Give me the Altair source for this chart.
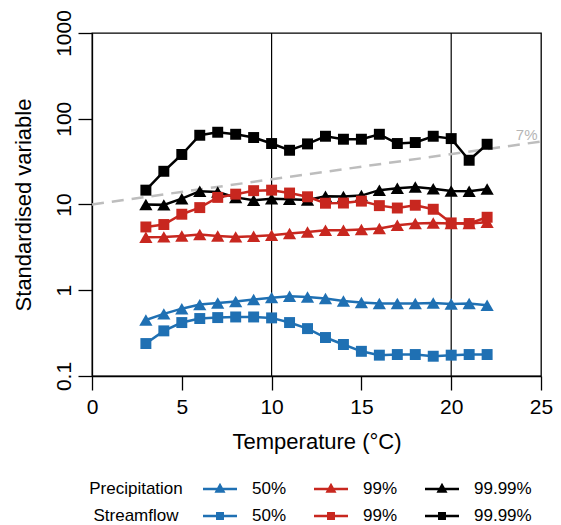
import altair as alt
import pandas as pd

temps = list(range(3, 23))
quantiles = ["50%", "99%", "99.99%"]
variables = ["Precipitation", "Streamflow"]
colors = ["#1f70b3", "#c8271f", "#000000"]

precip_50 = [0.45, 0.53, 0.61, 0.68, 0.71, 0.74, 0.78, 0.82, 0.85, 0.835,
             0.80, 0.75, 0.72, 0.70, 0.70, 0.70, 0.71, 0.69, 0.70, 0.67]
precip_99 = [4.15, 4.19, 4.3, 4.46, 4.3, 4.19, 4.26, 4.38, 4.58, 4.78,
             5.0, 5.0, 5.1, 5.25, 5.73, 6.0, 6.1, 6.0, 6.0, 6.2]
precip_9999 = [10.0, 9.9, 11.7, 14.3, 14.0, 12.1, 11.2, 11.7, 11.5, 11.3,
               12.5, 12.4, 12.7, 14.7, 15.5, 16.0, 15.3, 14.4, 14.3, 15.2]
stream_50 = [0.239, 0.336, 0.42, 0.468, 0.48, 0.488, 0.488, 0.476, 0.42, 0.357,
             0.281, 0.233, 0.194, 0.175, 0.178, 0.178, 0.17, 0.175, 0.178, 0.178]
stream_99 = [5.47, 5.84, 7.7, 9.2, 12.1, 13.2, 14.5, 14.7, 13.6, 12.3,
             10.35, 10.4, 10.95, 9.7, 9.1, 9.8, 8.8, 6.1, 6.0, 7.1]
stream_9999 = [14.7, 24.4, 38.3, 64.2, 69.6, 65.9, 60.4, 51.4, 42.9, 50.9,
               62.5, 57.7, 57.7, 65.9, 51.4, 52.8, 62.5, 58.7, 32.8, 50.4]

vlines = [10, 20]
ref_rate = 0.07
ref_start = 10
ref_x = [0, 25]
ref_label = "7%"
ref_label_pos = [24.2, 64]

x_ticks = [0, 5, 10, 15, 20, 25]
y_ticks = [0.1, 1, 10, 100, 1000]

FONT = "Liberation Sans"


def long_df(series):
    rows = []
    for q, vals in zip(quantiles, series):
        for t, v in zip(temps, vals):
            rows.append({"temp": t, "value": v, "q": q})
    return pd.DataFrame(rows)


precip_df = long_df([precip_50, precip_99, precip_9999])
stream_df = long_df([stream_50, stream_99, stream_9999])
ref_df = pd.DataFrame({"temp": ref_x,
                       "value": [ref_start * (1 + ref_rate) ** t for t in ref_x]})
label_df = pd.DataFrame({"temp": [ref_label_pos[0]], "value": [ref_label_pos[1]],
                         "txt": [ref_label]})
vline_df = pd.DataFrame({"temp": vlines})

x_enc = alt.X("temp:Q",
              scale=alt.Scale(domain=[0, 25], nice=False, zero=False),
              axis=alt.Axis(values=x_ticks, title="Temperature (°C)",
                            labelFontSize=21, titleFontSize=22,
                            labelPadding=6, titlePadding=14, labelFlush=False,
                            tickSize=14, format="d"))
y_enc = alt.Y("value:Q",
              scale=alt.Scale(type="log", domain=[0.1, 1000], nice=False),
              axis=alt.Axis(values=y_ticks, title="Standardised variable",
                            format="~g", labelAngle=270, labelAlign="center",
                            labelBaseline="bottom", labelFlush=False,
                            labelFontSize=21, titleFontSize=22,
                            labelPadding=4, titlePadding=18, tickSize=14))
color_scale = alt.Scale(domain=quantiles, range=colors)

rules = alt.Chart(vline_df).mark_rule(color="black", strokeWidth=1.2).encode(x=x_enc)
ref_line = alt.Chart(ref_df).mark_line(color="#bdbdbd", strokeWidth=2.5,
                                       strokeDash=[12, 8]).encode(x=x_enc, y=y_enc)
ref_text = alt.Chart(label_df).mark_text(color="#b5b5b5", fontSize=15, font=FONT,
                                         align="center", baseline="middle").encode(
    x=x_enc, y=y_enc, text="txt:N")

precip = alt.Chart(precip_df).mark_line(
    strokeWidth=2.5,
    point=alt.OverlayMarkDef(shape="triangle-up", size=175, filled=True, opacity=1),
).encode(x=x_enc, y=y_enc,
         color=alt.Color("q:N", scale=color_scale, legend=None))
stream = alt.Chart(stream_df).mark_line(
    strokeWidth=2.5,
    point=alt.OverlayMarkDef(shape="square", size=120, filled=True, opacity=1),
).encode(x=x_enc, y=y_enc,
         color=alt.Color("q:N", scale=color_scale, legend=None))

main = alt.layer(rules, ref_line, ref_text, precip, stream)

# ---- hand-built legend (two rows x three columns) ----
TRI = "M-1,0L1,0M-0.2,0.14L0,-0.22L0.2,0.14Z"
SQR = "M-1,0L1,0M-0.16,-0.16L0.16,-0.16L0.16,0.16L-0.16,0.16Z"
leg_df = pd.DataFrame([{"var": v, "q": q} for v in variables for q in quantiles])
title_df = pd.DataFrame({"var": variables, "q": [quantiles[0]] * len(variables)})

lx = alt.X("q:N", scale=alt.Scale(type="point", domain=quantiles,
                                  range=[128, 350], padding=0), axis=None)
ly = alt.Y("var:N", scale=alt.Scale(type="point", domain=variables,
                                    range=[456, 483], padding=0), axis=None)

leg_sym = alt.Chart(leg_df).mark_point(filled=True, size=1156, strokeWidth=2.5,
                                       opacity=1).encode(
    x=lx, y=ly,
    fill=alt.Fill("q:N", scale=color_scale, legend=None),
    stroke=alt.Stroke("q:N", scale=color_scale, legend=None),
    shape=alt.Shape("var:N", scale=alt.Scale(domain=variables, range=[TRI, SQR]),
                    legend=None),
)
leg_lab = alt.Chart(leg_df).mark_text(align="left", baseline="middle", dx=32,
                                      fontSize=17, font=FONT, color="black").encode(
    x=lx, y=ly, text="q:N")
leg_title = alt.Chart(title_df).mark_text(align="center", baseline="middle", dx=-84,
                                          fontSize=17, font=FONT, color="black").encode(
    x=lx, y=ly, text="var:N")
legend = alt.layer(leg_sym, leg_lab, leg_title)

chart = alt.layer(main, legend).resolve_scale(
    x="independent", y="independent"
).properties(
    width=449, height=343,
    autosize=alt.AutoSizeParams(type="none"),
    padding={"left": 84, "top": 25, "right": 12, "bottom": 149},
).configure(font=FONT).configure_view(
    stroke="black", strokeWidth=1.3
).configure_axis(
    grid=False, domainColor="black", domainWidth=1.3, tickColor="black",
    tickWidth=1.3, labelColor="black", titleColor="black",
    titleFontWeight="normal", labelFont=FONT, titleFont=FONT,
)

chart.save("out.html", embed_options={"renderer": "svg", "actions": False})
